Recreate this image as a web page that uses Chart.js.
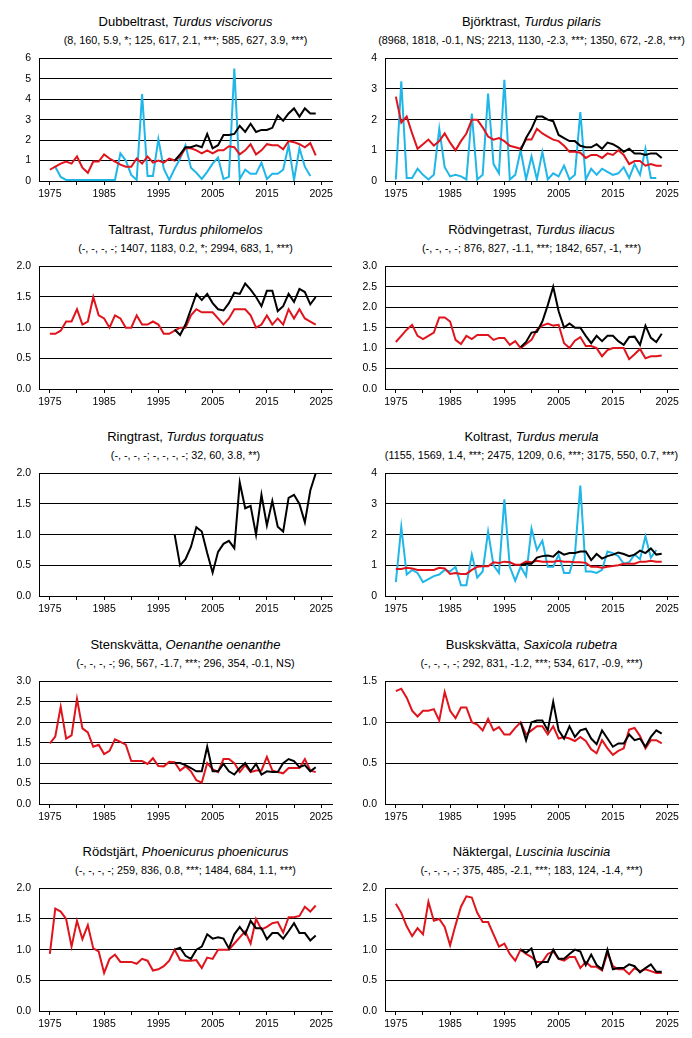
<!DOCTYPE html>
<html>
<head>
<meta charset="utf-8">
<script src="https://cdn.jsdelivr.net/npm/chart.js@4.4.1/dist/chart.umd.min.js"></script>
<style>
  body { margin: 0; background: #fff; font-family: "Liberation Sans", Arial, sans-serif; color: #000; }
  #page { position: relative; width: 692px; height: 1038px; overflow: hidden; }
  .box { position: absolute; width: 346px; height: 165px; }
  .ttl, .sub { position: absolute; text-align: center; white-space: nowrap; line-height: 16px; height: 16px; transform: translateX(-50%); }
  .ttl { font-size: 13px; }
  .sub { font-size: 10.8px; }
</style>
</head>
<body>
<div id="page"></div>
<script>
// years
const redStart = 1975;
const blackStart = 1998;
const xTicks = [1975, 1980, 1985, 1990, 1995, 2000, 2005, 2010, 2015, 2020, 2025];

const names = ['Dubbeltrast', 'Björktrast', 'Taltrast', 'Rödvingetrast', 'Ringtrast',
               'Koltrast', 'Stenskvätta', 'Buskskvätta', 'Rödstjärt', 'Näktergal'];
const latin = ['Turdus viscivorus', 'Turdus pilaris', 'Turdus philomelos', 'Turdus iliacus', 'Turdus torquatus',
               'Turdus merula', 'Oenanthe oenanthe', 'Saxicola rubetra', 'Phoenicurus phoenicurus', 'Luscinia luscinia'];
const stats = [
  '(8, 160, 5.9, *; 125, 617, 2.1, ***; 585, 627, 3.9, ***)',
  '(8968, 1818, -0.1, NS; 2213, 1130, -2.3, ***; 1350, 672, -2.8, ***)',
  '(-, -, -, -; 1407, 1183, 0.2, *; 2994, 683, 1, ***)',
  '(-, -, -, -; 876, 827, -1.1, ***; 1842, 657, -1, ***)',
  '(-, -, -, -; -, -, -, -; 32, 60, 3.8, **)',
  '(1155, 1569, 1.4, ***; 2475, 1209, 0.6, ***; 3175, 550, 0.7, ***)',
  '(-, -, -, -; 96, 567, -1.7, ***; 296, 354, -0.1, NS)',
  '(-, -, -, -; 292, 831, -1.2, ***; 534, 617, -0.9, ***)',
  '(-, -, -, -; 259, 836, 0.8, ***; 1484, 684, 1.1, ***)',
  '(-, -, -, -; 375, 485, -2.1, ***; 183, 124, -1.4, ***)'
];
const yMax  = [6, 4, 2, 3, 2, 4, 3, 1.5, 2, 2];
const yStep = [1, 1, 0.5, 0.5, 0.5, 1, 0.5, 0.5, 0.5, 0.5];

// Dubbeltrast
const dubbelRed = [0.55,0.7,0.85,0.95,0.85,1.2,0.65,0.4,0.95,0.95,1.3,1.1,0.95,0.8,0.7,0.7,1.1,0.85,1.2,0.9,1.0,0.9,1.1,1.0,
  1.2,1.6,1.6,1.5,1.35,1.5,1.35,1.5,1.5,1.7,1.65,1.3,1.5,1.8,1.3,1.5,1.8,1.75,1.75,1.55,1.95,1.9,1.8,1.65,1.85,1.25];
const dubbelBlack = [1.0,1.3,1.65,1.65,1.75,1.65,2.3,1.6,1.75,2.25,2.25,2.3,2.7,2.4,2.8,2.4,2.5,2.5,2.6,3.2,2.95,3.3,3.55,3.15,3.55,3.3,3.3];
const dubbelCyan = [0.7,0.2,0.05,0.05,0.05,0.05,0.05,0.05,0.05,0.05,0.05,0.05,
  1.35,1.0,0.3,0.05,4.25,0.25,0.25,2.05,0.6,0.05,0.6,1.1,1.75,0.65,0.4,0.1,0.45,0.85,1.15,0.1,0.2,5.5,0.1,0.55,0.35,0.35,0.9,0.1,0.35,0.35,0.55,1.75,0.05,1.6,0.7,0.25];

// Björktrast
const bjorkRed = [2.75,1.9,2.1,1.55,1.05,1.2,1.35,1.15,1.3,1.55,1.25,1.0,1.3,1.55,2.0,2.0,1.75,1.45,1.35,1.4,1.3,1.15,1.1,1.05,
  1.35,1.35,1.7,1.55,1.45,1.35,1.3,1.15,0.95,0.95,0.92,0.75,0.85,0.85,0.75,0.9,0.85,1.0,0.85,0.55,0.65,0.65,0.5,0.55,0.5,0.5];
const bjorkBlack = [1.0,1.4,1.7,2.1,2.1,2.0,1.95,1.5,1.4,1.3,1.3,1.15,1.1,1.1,1.2,1.05,1.25,1.2,1.1,0.95,1.05,0.9,0.9,0.85,0.9,0.9,0.75];
const bjorkCyan = [0.05,3.25,0.1,0.1,0.4,0.2,0.05,0.2,1.7,0.45,0.15,0.2,0.15,0.05,2.2,0.05,0.2,2.85,0.55,0.25,3.3,0.05,0.2,1.0,
  0.05,0.8,0.05,0.95,0.05,0.25,0.15,0.5,0.05,0.2,2.25,0.05,0.4,0.2,0.4,0.3,0.2,0.25,0.45,0.1,0.55,0.2,1.05,0.1,0.1];

// Taltrast
const talRed = [0.9,0.9,0.95,1.1,1.1,1.3,1.05,1.1,1.5,1.2,1.15,1.0,1.2,1.15,1.0,1.0,1.2,1.05,1.05,1.1,1.05,0.9,0.9,0.95,
  1.0,1.0,1.2,1.3,1.25,1.25,1.25,1.15,1.05,1.15,1.3,1.3,1.3,1.2,1.0,1.05,1.2,1.05,1.15,1.05,1.3,1.15,1.3,1.15,1.1,1.05];
const talBlack = [0.97,0.88,1.05,1.3,1.55,1.45,1.55,1.4,1.3,1.28,1.4,1.57,1.55,1.72,1.62,1.5,1.35,1.6,1.6,1.27,1.35,1.55,1.42,1.63,1.58,1.38,1.5];

// Rödvingetrast
const rodvRed = [1.15,1.3,1.45,1.57,1.3,1.22,1.3,1.38,1.75,1.75,1.65,1.2,1.1,1.3,1.22,1.32,1.32,1.32,1.2,1.25,1.25,1.08,1.17,1.0,
  1.1,1.2,1.45,1.55,1.6,1.55,1.57,1.12,1.0,1.18,1.27,1.05,1.05,1.0,0.8,0.95,1.0,1.0,1.0,0.73,0.85,0.98,0.75,0.8,0.8,0.82];
const rodvBlack = [1.02,1.15,1.38,1.4,1.65,2.05,2.5,1.9,1.5,1.6,1.5,1.5,1.3,1.12,1.3,1.17,1.3,1.3,1.17,1.08,1.27,1.28,1.08,1.55,1.25,1.15,1.35];

// Ringtrast
const ringBlack = [1.0,0.5,0.6,0.8,1.12,1.05,0.7,0.38,0.72,0.85,0.9,0.78,1.85,1.43,1.47,1.0,1.65,1.15,1.55,1.13,1.05,1.6,1.65,1.5,1.2,1.72,2.0];

// Koltrast
const kolRed = [0.88,0.88,0.92,0.9,0.85,0.85,0.85,0.85,0.92,0.9,0.72,0.75,0.72,0.72,0.85,0.95,0.97,0.97,1.1,1.08,1.12,1.1,1.02,1.02,
  1.12,1.1,1.15,1.12,1.12,1.12,1.15,1.12,1.12,1.1,1.1,1.08,0.95,0.95,0.92,0.95,0.98,1.0,1.05,1.05,1.05,1.12,1.12,1.15,1.12,1.12];
const kolBlack = [1.0,1.05,1.05,1.25,1.3,1.32,1.28,1.45,1.35,1.4,1.4,1.45,1.45,1.17,1.37,1.22,1.3,1.35,1.42,1.37,1.3,1.35,1.48,1.4,1.55,1.35,1.38];
const kolCyan = [0.45,2.25,0.7,0.85,0.75,0.45,0.55,0.65,0.7,0.85,0.8,0.95,0.35,0.35,1.35,0.6,0.8,2.1,1.0,0.75,3.15,0.95,0.5,0.95,
  0.65,2.2,1.5,1.8,0.95,0.95,1.35,0.75,0.75,1.35,3.6,0.8,0.8,0.75,0.85,1.45,1.4,1.3,1.05,1.1,1.35,1.2,1.95,1.25,1.5];

// Stenskvätta
const stenRed = [1.48,1.65,2.38,1.6,1.68,2.57,1.85,1.75,1.4,1.45,1.22,1.3,1.58,1.52,1.45,1.05,1.05,1.05,0.98,1.12,0.93,0.92,1.03,1.02,
  0.82,0.92,0.8,0.58,0.52,1.0,0.85,0.78,1.1,1.1,1.0,0.78,0.95,0.78,0.82,0.82,1.15,0.82,0.78,0.75,0.88,0.88,0.88,1.1,0.82,0.78];
const stenBlack = [1.0,1.0,0.95,0.88,0.8,0.8,1.4,0.8,0.8,0.98,0.8,0.72,0.88,1.0,0.8,0.98,0.72,0.8,0.78,0.78,1.0,1.1,1.05,0.9,0.95,0.8,0.9];

// Buskskvätta
const buskRed = [1.38,1.41,1.3,1.14,1.07,1.14,1.14,1.16,1.02,1.37,1.14,1.05,1.18,1.18,1.0,0.97,0.9,1.04,0.9,0.94,0.85,0.85,0.93,1.0,
  0.85,0.9,0.95,0.95,0.85,0.95,0.8,0.82,0.8,0.77,0.82,0.77,0.67,0.62,0.78,0.68,0.6,0.65,0.68,0.91,0.93,0.83,0.68,0.78,0.78,0.74];
const buskBlack = [1.0,0.78,1.0,1.02,1.02,0.9,1.25,0.9,0.8,0.95,0.82,0.9,0.92,0.8,0.73,0.9,0.8,0.7,0.74,0.74,0.85,0.78,0.8,0.7,0.82,0.9,0.86];

// Rödstjärt
const rodsRed = [0.93,1.67,1.62,1.5,1.05,1.47,1.17,1.4,1.02,0.97,0.62,0.85,0.92,0.8,0.8,0.8,0.77,0.85,0.82,0.66,0.68,0.73,0.82,1.0,
  0.83,0.82,0.82,0.83,0.7,0.87,0.85,1.0,1.0,1.0,1.1,1.2,1.3,1.1,1.5,1.33,1.37,1.43,1.45,1.28,1.53,1.53,1.55,1.7,1.62,1.72];
const rodsBlack = [1.0,1.03,0.9,0.85,1.0,1.05,1.25,1.18,1.2,1.18,1.02,1.25,1.37,1.25,1.47,1.35,1.35,1.17,1.27,1.27,1.18,1.3,1.43,1.27,1.27,1.15,1.23];

// Näktergal
const naktRed = [1.75,1.6,1.38,1.22,1.35,1.25,1.78,1.47,1.5,1.37,1.07,1.4,1.7,1.87,1.85,1.6,1.45,1.45,1.25,1.05,1.1,0.93,0.82,1.0,
  0.93,0.88,0.8,0.8,0.93,0.97,0.85,0.82,0.88,0.88,0.7,0.8,0.72,0.72,0.66,0.95,0.73,0.68,0.68,0.6,0.7,0.65,0.68,0.65,0.62,0.62];
const naktBlack = [1.0,0.95,1.02,0.72,0.8,0.8,1.0,0.85,0.85,0.93,1.0,0.97,0.75,0.92,0.75,0.68,1.0,0.68,0.7,0.7,0.76,0.73,0.63,0.7,0.76,0.64,0.64];

const reds   = [dubbelRed, bjorkRed, talRed, rodvRed, null, kolRed, stenRed, buskRed, rodsRed, naktRed];
const blacks = [dubbelBlack, bjorkBlack, talBlack, rodvBlack, ringBlack, kolBlack, stenBlack, buskBlack, rodsBlack, naktBlack];
const cyans  = [dubbelCyan, bjorkCyan, null, null, null, kolCyan, null, null, null, null];
const cyanStart = [1976, 1975, 0, 0, 0, 1975, 0, 0, 0, 0];

Chart.defaults.font.family = '"Liberation Sans", Arial, sans-serif';
Chart.defaults.font.size = 10.5;
Chart.defaults.color = '#000';

function toPoints(arr, start) {
    return arr.map(function (v, i) { return { x: start + i, y: v }; });
}

var page = document.getElementById('page');

for (let i = 0; i < names.length; i++) {
    var col = i % 2;
    var row = Math.floor(i / 2);
    var left = col * 346;
    var plotTop = 52 + row * 207.5;

    // title and subtitle, centred over the plot area
    var t = document.createElement('div');
    t.className = 'ttl';
    t.style.left = (left + 185.5) + 'px';
    t.style.top = (plotTop - 38) + 'px';
    t.innerHTML = names[i] + ', <i>' + latin[i] + '</i>';
    page.appendChild(t);

    var s = document.createElement('div');
    s.className = 'sub';
    s.style.left = (left + 185.5) + 'px';
    s.style.top = (plotTop - 20) + 'px';
    s.textContent = stats[i];
    page.appendChild(s);

    var box = document.createElement('div');
    box.className = 'box';
    box.style.left = left + 'px';
    box.style.top = (plotTop - 8) + 'px';
    var cv = document.createElement('canvas');
    box.appendChild(cv);
    page.appendChild(box);

    var datasets = [];
    datasets.push({ data: toPoints(blacks[i], blackStart), borderColor: '#000000' });
    if (reds[i]) datasets.push({ data: toPoints(reds[i], redStart), borderColor: '#e0141c' });
    if (cyans[i]) datasets.push({ data: toPoints(cyans[i], cyanStart[i]), borderColor: '#20b6e8' });

    const dec = yStep[i] < 1 ? 1 : 0;

    new Chart(cv, {
        type: 'line',
        data: { datasets: datasets },
        options: {
            responsive: true,
            maintainAspectRatio: false,
            animation: false,
            layout: { padding: { top: 8, right: 14, left: 0, bottom: 0 } },
            plugins: { legend: { display: false }, tooltip: { enabled: false } },
            elements: {
                point: { radius: 0 },
                line: { tension: 0, borderWidth: 2, fill: false }
            },
            scales: {
                x: {
                    type: 'linear',
                    min: 1973,
                    max: 2027,
                    afterBuildTicks: function (scale) {
                        scale.ticks = xTicks.map(function (v) { return { value: v }; });
                    },
                    afterFit: function (scale) { scale.height = 28; },
                    ticks: {
                        autoSkip: false,
                        maxRotation: 0,
                        padding: 3,
                        callback: function (v) { return (v - 1975) % 10 === 0 ? String(v) : ''; }
                    },
                    grid: { drawOnChartArea: false, drawTicks: true, tickLength: 4, color: '#000' },
                    border: { color: '#000', width: 1 }
                },
                y: {
                    min: 0,
                    max: yMax[i],
                    afterFit: function (scale) { scale.width = 39; },
                    ticks: {
                        stepSize: yStep[i],
                        padding: 8,
                        callback: function (v) { return v.toFixed(dec); }
                    },
                    grid: { color: '#000', drawTicks: false },
                    border: { color: '#000', width: 1 }
                }
            }
        }
    });
}
</script>
</body>
</html>
